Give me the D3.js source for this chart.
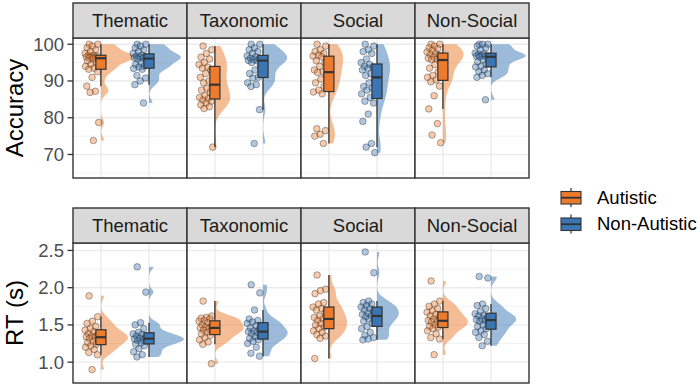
<!DOCTYPE html>
<html>
<head>
<meta charset="utf-8">
<script src="https://cdn.jsdelivr.net/npm/d3@7"></script>
<style>
  body { margin: 0; background: #fff; }
  text { font-family: "Liberation Sans", Arial, sans-serif; }
</style>
</head>
<body>
<div id="chart"></div>
<script>
// Raincloud plots: accuracy and RT by condition and group
const width = 700;
const height = 386;

const facets = ["Thematic", "Taxonomic", "Social", "Non-Social"];
const groups = ["Autistic", "Non-Autistic"];
const colors = ["#EC7B2D", "#3A76B4"];

// Accuracy (%)
const accThematicAut = [100, 100, 99.5, 99, 98.5, 98, 97.5, 97, 96.9, 96.8, 96.6, 96.5, 96.4, 96.3, 96.2, 96, 95.5, 95, 94.5, 94, 93.5, 93.2, 92.5, 91, 88.6, 87.2, 86.9, 78.7, 73.8];
const accThematicNon = [100, 100, 99.5, 99, 98.5, 98, 97.5, 97, 96.8, 96.6, 96.5, 96.3, 96.2, 96, 95.5, 95, 94.5, 94, 93.8, 93.4, 93.2, 91.5, 90.8, 90, 89, 84];
const accTaxonomicAut = [99.5, 98.5, 97.5, 96.5, 96, 95, 94.5, 93.8, 93.5, 93, 92, 91, 90, 89.5, 88.5, 88, 87.5, 87, 86, 85.5, 85.2, 84.8, 84.5, 84, 83.5, 83, 82.5, 72];
const accTaxonomicNon = [100, 100, 99, 98.5, 98, 97.5, 96.8, 96.5, 96.2, 96, 95.8, 95.6, 95.5, 95, 94, 93, 92, 91, 90.8, 89.5, 89, 88.5, 82.2, 73];
const accSocialAut = [100, 99.5, 98.5, 98, 97.5, 97, 96.8, 96.6, 95.5, 95, 94, 93, 92.5, 92.3, 91.5, 90.5, 89.5, 88.5, 87.5, 87, 86.5, 77, 76.5, 75.5, 75, 73];
const accSocialNon = [100, 99.5, 98.5, 98, 97.5, 96, 95, 94.5, 94, 93.8, 93.5, 93, 92, 91.5, 90.5, 89.5, 88.5, 88, 87.5, 86.5, 85.5, 84.5, 84, 81, 79, 73, 72, 70.5];
const accNonSocialAut = [100, 100, 99.5, 99, 98.8, 98.3, 97.9, 97.5, 97.2, 97, 96.5, 96.2, 95.9, 95.8, 95.6, 94.5, 93.5, 92.5, 91.5, 91, 90.3, 89.8, 88.6, 86, 82.4, 78.4, 75.3, 73.2];
const accNonSocialNon = [100, 100, 100, 99.5, 99, 98.5, 97.6, 97.4, 97.2, 97, 96.9, 96.8, 96.7, 96.5, 96.2, 95.8, 95.2, 94.5, 94, 93.8, 93, 92.5, 92, 91.5, 91, 84.9];

// RT (s)
const rtThematicAut = [1.89, 1.61, 1.55, 1.52, 1.48, 1.45, 1.43, 1.41, 1.38, 1.36, 1.35, 1.34, 1.33, 1.32, 1.30, 1.28, 1.26, 1.24, 1.22, 1.20, 1.17, 1.13, 1.10, 0.90];
const rtThematicNon = [2.28, 1.94, 1.53, 1.50, 1.45, 1.40, 1.38, 1.37, 1.35, 1.33, 1.32, 1.31, 1.30, 1.29, 1.28, 1.26, 1.24, 1.22, 1.18, 1.14, 1.10, 1.07];
const rtTaxonomicAut = [1.82, 1.62, 1.60, 1.59, 1.58, 1.56, 1.55, 1.53, 1.50, 1.48, 1.47, 1.46, 1.45, 1.43, 1.42, 1.40, 1.38, 1.36, 1.33, 1.30, 1.27, 1.24, 0.98];
const rtTaxonomicNon = [2.04, 1.93, 1.70, 1.58, 1.56, 1.54, 1.52, 1.49, 1.46, 1.44, 1.42, 1.41, 1.40, 1.38, 1.36, 1.34, 1.32, 1.30, 1.28, 1.25, 1.20, 1.12, 1.08];
const rtSocialAut = [2.17, 1.98, 1.96, 1.92, 1.80, 1.78, 1.74, 1.72, 1.70, 1.66, 1.62, 1.60, 1.58, 1.56, 1.55, 1.52, 1.50, 1.47, 1.45, 1.42, 1.40, 1.37, 1.35, 1.32, 1.05];
const rtSocialNon = [2.48, 2.20, 1.82, 1.80, 1.78, 1.76, 1.74, 1.72, 1.70, 1.68, 1.66, 1.64, 1.62, 1.61, 1.60, 1.58, 1.55, 1.52, 1.48, 1.45, 1.40, 1.36, 1.33, 1.31, 1.30];
const rtNonSocialAut = [2.09, 1.82, 1.78, 1.75, 1.72, 1.69, 1.67, 1.64, 1.62, 1.60, 1.58, 1.56, 1.55, 1.54, 1.52, 1.50, 1.48, 1.47, 1.45, 1.42, 1.38, 1.33, 1.31, 1.10];
const rtNonSocialNon = [2.15, 2.13, 1.78, 1.76, 1.72, 1.68, 1.65, 1.63, 1.62, 1.60, 1.58, 1.57, 1.56, 1.55, 1.53, 1.50, 1.48, 1.45, 1.42, 1.40, 1.37, 1.33, 1.28, 1.22];

const accTicks = [70, 80, 90, 100];
const accMinor = [65, 75, 85, 95];
const rtTicks = [1.0, 1.5, 2.0, 2.5];
const rtMinor = [0.75, 1.25, 1.75, 2.25];

const rows = [
  {
    title: "Accuracy", domain: [63.6, 101.7], ticks: accTicks, minor: accMinor,
    fmt: d3.format("d"), top: 3,
    data: [[accThematicAut, accThematicNon], [accTaxonomicAut, accTaxonomicNon],
           [accSocialAut, accSocialNon], [accNonSocialAut, accNonSocialNon]]
  },
  {
    title: "RT (s)", domain: [0.72, 2.6], ticks: rtTicks, minor: rtMinor,
    fmt: d3.format(".1f"), top: 208,
    data: [[rtThematicAut, rtThematicNon], [rtTaxonomicAut, rtTaxonomicNon],
           [rtSocialAut, rtSocialNon], [rtNonSocialAut, rtNonSocialNon]]
  }
];

const panelLeft = 73;
const panelW = 114;
const stripH = 35;
const panelH = 140;
const violinMax = 35;
const bwAdjust = 0.8;

const svg = d3.select("#chart")
  .append("svg")
  .attr("width", width)
  .attr("height", height);

const x = d3.scaleLinear().domain([0.42, 2.79]).range([0, panelW]);

// gaussian kde, bandwidth as R's bw.nrd0 times an adjust factor
function kde(values, n = 120) {
  const s = values.slice().sort(d3.ascending);
  const sd = d3.deviation(s);
  const iqr = d3.quantile(s, 0.75) - d3.quantile(s, 0.25);
  const lo = Math.min(sd, iqr / 1.34) || sd;
  const bw = bwAdjust * 0.9 * lo * Math.pow(s.length, -0.2);
  const [mn, mx] = d3.extent(s);
  return d3.range(n + 1).map(i => {
    const y = mn + (mx - mn) * i / n;
    const dens = d3.mean(s, v => Math.exp(-0.5 * ((y - v) / bw) ** 2)) / (bw * Math.sqrt(2 * Math.PI));
    return [y, dens];
  });
}

function boxStats(values) {
  const s = values.slice().sort(d3.ascending);
  const q1 = d3.quantile(s, 0.25), med = d3.quantile(s, 0.5), q3 = d3.quantile(s, 0.75);
  const iqr = q3 - q1;
  const lo = d3.min(s.filter(v => v >= q1 - 1.5 * iqr));
  const hi = d3.max(s.filter(v => v <= q3 + 1.5 * iqr));
  return { q1, med, q3, lo, hi };
}

rows.forEach(row => {
  const py = row.top + stripH;
  const y = d3.scaleLinear().domain(row.domain).range([py + panelH, py]);

  const dens = row.data.map(pair => pair.map(vals => kde(vals)));
  const maxD = d3.max(dens.flat(2), d => d[1]);

  row.data.forEach((pair, fi) => {
    const px = panelLeft + fi * panelW;
    const g = svg.append("g").attr("transform", `translate(${px},0)`);

    g.append("rect")
      .attr("x", 0).attr("y", py).attr("width", panelW).attr("height", panelH)
      .attr("fill", "#fff");

    // grid
    g.selectAll(".minor").data(row.minor).join("line")
      .attr("x1", 0).attr("x2", panelW)
      .attr("y1", d => y(d)).attr("y2", d => y(d))
      .attr("stroke", "#EBEBEB").attr("stroke-width", 0.7);
    g.selectAll(".major").data(row.ticks).join("line")
      .attr("x1", 0).attr("x2", panelW)
      .attr("y1", d => y(d)).attr("y2", d => y(d))
      .attr("stroke", "#EBEBEB").attr("stroke-width", 1.4);
    g.selectAll(".vmajor").data([1, 2]).join("line")
      .attr("x1", d => x(d)).attr("x2", d => x(d))
      .attr("y1", py).attr("y2", py + panelH)
      .attr("stroke", "#EBEBEB").attr("stroke-width", 1.4);

    pair.forEach((vals, gi) => {
      const cx = x(gi + 1);
      // half violin
      const area = d3.area()
        .y(d => y(d[0]))
        .x0(cx)
        .x1(d => cx + d[1] / maxD * violinMax);
      g.append("path")
        .attr("d", area(dens[fi][gi]))
        .attr("fill", colors[gi])
        .attr("fill-opacity", 0.5);

      // jittered points
      g.selectAll(null).data(vals).join("circle")
        .attr("cx", (d, i) => x(gi + 1 - 0.19 + ((i * 0.618034 + 0.31) % 1 - 0.5) * 0.29))
        .attr("cy", d => y(d))
        .attr("r", 3.3)
        .attr("fill", colors[gi])
        .attr("fill-opacity", 0.4)
        .attr("stroke", "#1a1a1a")
        .attr("stroke-opacity", 0.45)
        .attr("stroke-width", 0.8);

      // boxplot
      const b = boxStats(vals);
      const bw = x(1.105) - x(1);
      g.append("line")
        .attr("x1", cx).attr("x2", cx)
        .attr("y1", y(b.hi)).attr("y2", y(b.lo))
        .attr("stroke", "#333").attr("stroke-width", 1.3);
      g.append("rect")
        .attr("x", cx - bw).attr("width", 2 * bw)
        .attr("y", y(b.q3)).attr("height", y(b.q1) - y(b.q3))
        .attr("fill", colors[gi])
        .attr("stroke", "#333").attr("stroke-width", 1.2);
      g.append("line")
        .attr("x1", cx - bw).attr("x2", cx + bw)
        .attr("y1", y(b.med)).attr("y2", y(b.med))
        .attr("stroke", "#333").attr("stroke-width", 2.2);
    });

    // panel border
    g.append("rect")
      .attr("x", 0).attr("y", py).attr("width", panelW).attr("height", panelH)
      .attr("fill", "none").attr("stroke", "#333").attr("stroke-width", 1.4);

    // strip
    g.append("rect")
      .attr("x", 0).attr("y", row.top).attr("width", panelW).attr("height", stripH)
      .attr("fill", "#D9D9D9").attr("stroke", "#333").attr("stroke-width", 1.4);
    g.append("text")
      .attr("x", panelW / 2).attr("y", row.top + stripH / 2)
      .attr("dy", "0.35em")
      .attr("text-anchor", "middle")
      .attr("font-size", 18.5)
      .attr("fill", "#1A1A1A")
      .text(facets[fi]);
  });

  // y axis
  const axis = svg.append("g").attr("transform", `translate(${panelLeft},0)`);
  axis.selectAll("line").data(row.ticks).join("line")
    .attr("x1", -5.5).attr("x2", 0)
    .attr("y1", d => y(d)).attr("y2", d => y(d))
    .attr("stroke", "#333").attr("stroke-width", 1.3);
  axis.selectAll("text").data(row.ticks).join("text")
    .attr("x", -9).attr("y", d => y(d))
    .attr("dy", "0.35em")
    .attr("text-anchor", "end")
    .attr("font-size", 18.5)
    .attr("fill", "#4D4D4D")
    .text(d => row.fmt(d));

  svg.append("text")
    .attr("transform", `translate(23,${py + panelH / 2}) rotate(-90)`)
    .attr("text-anchor", "middle")
    .attr("font-size", 24)
    .attr("fill", "#000")
    .text(row.title);
});

// legend
const legend = svg.append("g").attr("transform", "translate(561,188)");
groups.forEach((name, i) => {
  const ly = i * 26.5;
  const k = legend.append("g").attr("transform", `translate(0,${ly})`);
  k.append("line").attr("x1", 10).attr("x2", 10).attr("y1", 0).attr("y2", 19)
    .attr("stroke", "#333").attr("stroke-width", 1.2);
  k.append("rect").attr("x", 0).attr("y", 3.5).attr("width", 20).attr("height", 12.5)
    .attr("fill", colors[i]).attr("stroke", "#333").attr("stroke-width", 1.1);
  k.append("line").attr("x1", 0).attr("x2", 20).attr("y1", 9.7).attr("y2", 9.7)
    .attr("stroke", "#333").attr("stroke-width", 1.8);
  legend.append("text")
    .attr("x", 36).attr("y", ly + 9.5)
    .attr("dy", "0.35em")
    .attr("font-size", 18.5)
    .attr("fill", "#000")
    .text(name);
});
</script>
</body>
</html>
